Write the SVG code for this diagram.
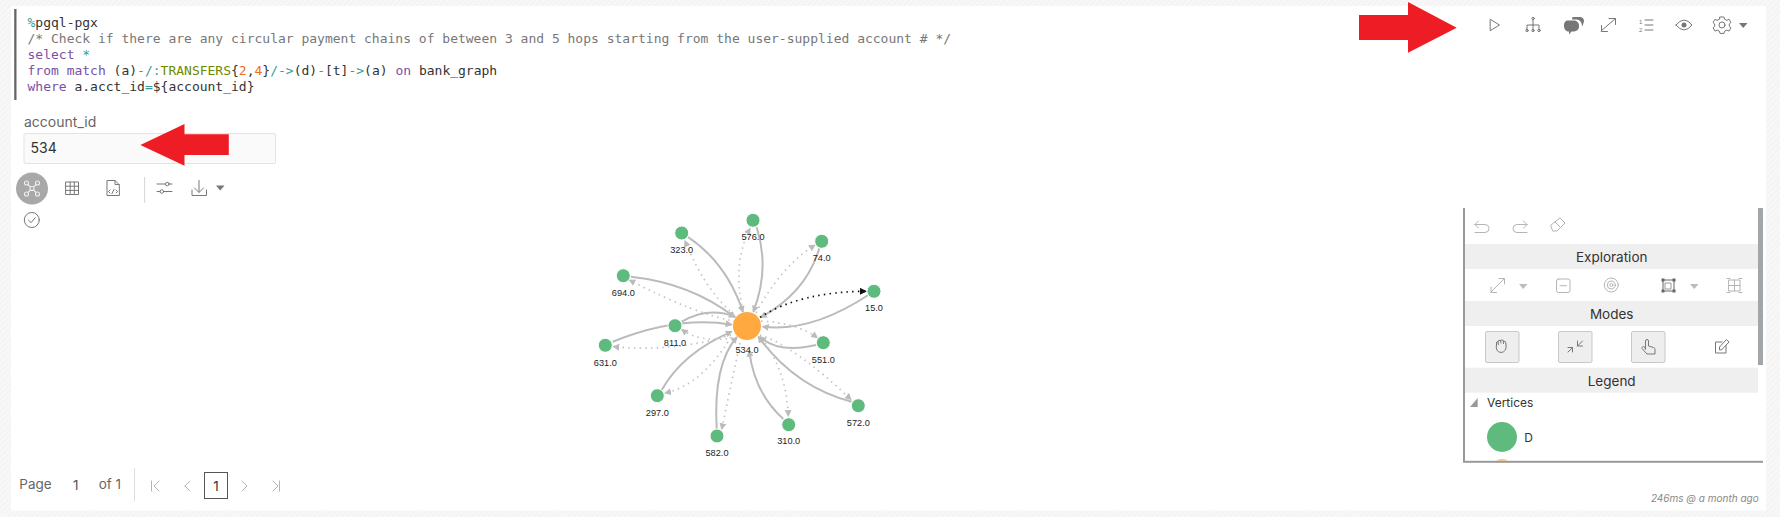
<svg xmlns="http://www.w3.org/2000/svg" width="1780" height="517" viewBox="0 0 1780 517">
<style>
.code{font-family:"DejaVu Sans Mono","Liberation Mono",monospace;font-size:13px;fill:#333}
.cm{fill:#777}.kw{fill:#7b4fa3}.op{fill:#3a9a9a}.ty{fill:#6c8a00}.nu{fill:#f26b1d}
.ui{font-family:Inter,"Liberation Sans",sans-serif;fill:#333}
.hd{font-size:13.500px;text-anchor:middle}
.lb{font-family:"Liberation Sans",Arial,sans-serif;font-size:9.200px;fill:#222;text-anchor:middle}
.ic{fill:none;stroke:#777;stroke-width:1;stroke-linecap:round;stroke-linejoin:round}
.lt{fill:none;stroke:#b5b5b5;stroke-width:1;stroke-linecap:round;stroke-linejoin:round}
.cr{fill:#777}.crl{fill:#bbb}
.red{fill:#ee1c25}
.s{fill:none;stroke:#bbb;stroke-width:2;marker-end:url(#ag)}
.d{fill:none;stroke:#c4c4c4;stroke-width:1.700;stroke-dasharray:1.500 4.200;marker-end:url(#ag)}
.db{fill:none;stroke:#111;stroke-width:1.700;stroke-dasharray:1.500 4.200;marker-end:url(#ak)}
.v{fill:#5fba7d;stroke:#fff;stroke-width:1}
.btn{fill:#eee;stroke:#c8c8c8;stroke-width:1}
.band{fill:#efefef}
</style>
<defs>
<pattern id="hatch" width="4" height="4" patternUnits="userSpaceOnUse" patternTransform="rotate(45)"><rect width="4" height="4" fill="#f4f4f4"/><rect width="2" height="4" fill="#f8f8f8"/></pattern>
<marker id="ag" markerUnits="userSpaceOnUse" markerWidth="8" markerHeight="8" refX="6" refY="3.500" orient="auto"><path d="M0 0L7 3.500L0 7z" fill="#bbb"/></marker>
<marker id="ak" markerUnits="userSpaceOnUse" markerWidth="8" markerHeight="8" refX="6" refY="3.500" orient="auto"><path d="M0 0L7 3.500L0 7z" fill="#111"/></marker>
</defs>
<rect width="1780" height="517" fill="url(#hatch)"/>
<rect x="11" y="6" width="1755" height="504.500" fill="#fff"/>
<rect x="14.200" y="9" width="2.300" height="91" fill="#666"/>
<g id="code">
<text class="code" x="27.500" y="27"><tspan class="op">%</tspan>pgql-pgx</text>
<text class="code cm" x="27.500" y="43">/* Check if there are any circular payment chains of between 3 and 5 hops starting from the user-supplied account # */</text>
<text class="code" x="27.500" y="59"><tspan class="kw">select</tspan> <tspan class="op">*</tspan></text>
<text class="code" x="27.500" y="75"><tspan class="kw">from match</tspan> (a)<tspan class="op">-/:</tspan><tspan class="ty">TRANSFERS</tspan>{<tspan class="nu">2</tspan>,<tspan class="nu">4</tspan>}<tspan class="op">/-&gt;</tspan>(d)<tspan class="op">-</tspan>[t]<tspan class="op">-&gt;</tspan>(a) <tspan class="kw">on</tspan> bank_graph</text>
<text class="code" x="27.500" y="91"><tspan class="kw">where</tspan> a.acct_id<tspan class="op">=</tspan>${account_id}</text>
</g>
<g id="toolbar-top">
<path class="ic" d="M1490.500 19.500L1499.500 25L1490.500 30.500z"/>
<path class="ic" d="M1533 19.500V25M1527 30V25H1539V30M1533 25V30"/><circle class="ic" cx="1533" cy="18.500" r="1.200"/><circle class="ic" cx="1527" cy="30.500" r="1.200"/><circle class="ic" cx="1533" cy="30.500" r="1.200"/><circle class="ic" cx="1539" cy="30.500" r="1.200"/>
<path d="M1573 17h7a4 4 0 0 1 3.500 6q-.500 2-1.500 3.500q0-6-5-7h-5q0-2.500 1-2.500z" fill="#777"/>
<path d="M1567 20.500h7a5 5 0 0 1 5 5v1a5 5 0 0 1-5 5h-2.500l-2.500 3v-3a5 5 0 0 1-2.500-.500a5 5 0 0 1-2.500-4.500v-1a5 5 0 0 1 3-5z" fill="#777"/>
<path class="ic" d="M1601 31L1615 19M1609 18.500H1615.500V24.500M1601.500 25.500V31.500H1607.500"/>
<path class="ic" d="M1645 20H1653M1645 25H1653M1645 30H1653"/>
<text x="1639" y="23.500" font-family="Liberation Sans,sans-serif" font-size="6" fill="#777">1</text><text x="1639" y="32" font-family="Liberation Sans,sans-serif" font-size="6" fill="#777">2</text>
<path class="ic" d="M1676 25Q1684 15 1692 25Q1684 35 1676 25z"/><circle cx="1684" cy="25" r="2.500" fill="#777"/>
<circle class="ic" cx="1722" cy="25" r="3"/><path class="ic" d="M1720 17h4l.700 2.300 2.200 1 2.100-1 2 3.200-1.700 1.500v2.400l1.700 1.500-2 3.200-2.100-1-2.200 1-.700 2.300h-4l-.700-2.300-2.200-1-2.100 1-2-3.200 1.700-1.500v-2.400l-1.700-1.500 2-3.200 2.100 1 2.200-1z"/>
<path class="cr" d="M1739 23h8.500l-4.250 5z"/>
</g>
<g id="arrow-run"><path class="red" d="M1359 15H1408V2L1456.700 27.700L1408 52.700V40H1359z"/></g>
<g id="input">
<text class="ui" x="24" y="127" font-size="14" style="fill:#666">account_id</text>
<rect x="24" y="133.500" width="251.500" height="30" rx="1.500" fill="#fafafa" stroke="#e3e3e3"/>
<text class="ui" x="30.600" y="153" font-size="14">534</text>
</g>
<g id="arrow-input"><path class="red" d="M140.400 145L184.500 124V134.300H228.800V155H184.500V165.700z"/></g>
<g id="toolbar-result">
<circle cx="32" cy="188.500" r="16" fill="#a8a8a8"/>
<g fill="none" stroke="#eee" stroke-width="1.100"><circle cx="26.500" cy="183" r="2"/><circle cx="37.500" cy="183" r="2"/><circle cx="26.500" cy="194" r="2"/><circle cx="37.500" cy="194" r="2"/><circle cx="32" cy="188.500" r="2"/><path d="M28 184.500L30.500 187M36 184.500L33.500 187M28 192.500L30.500 190M36 192.500L33.500 190"/></g>
<path class="ic" d="M66 182h12.500v12.500H66zM66 186.200h12.500M66 190.400h12.500M70.200 182v12.500M74.300 182v12.500"/>
<path class="ic" d="M119 195.500h-12v-15h8l4 4zM115 180.500v4h4"/><path class="ic" d="M110 190l-1.500 1.500 1.500 1.500M116 190l1.500 1.500-1.500 1.500M114 189.500l-2 4"/>
<path d="M144.600 177V203" stroke="#d5d5d5" fill="none"/>
<path class="ic" d="M157 184h8.500M169 184h3M157 191.500h3M163.500 191.500h8.500"/><circle class="ic" cx="167.300" cy="184" r="1.800"/><circle class="ic" cx="161.800" cy="191.500" r="1.800"/>
<path class="ic" d="M199 180.500V192M194.500 188L199 192.500L203.500 188M192 190V195.500H206.500V190"/>
<path class="cr" d="M216 185.500h8.500l-4.250 5z"/>
<circle class="ic" cx="31.800" cy="220" r="7.500"/><path class="ic" d="M28.500 220.200L31 222.700L35.200 217.700"/>
</g>
<g id="connectors">
<path class="s" d="M688 237Q726.700 263 743 312"/>
<path class="s" d="M756.700 227.300Q770 269 753.300 311.700"/>
<path class="s" d="M819.300 248.300Q806 293 760.700 317.300"/>
<path class="s" d="M868.300 295Q811.100 332.600 762.700 326.700"/>
<path class="s" d="M816 345Q778.600 353.800 760 336.700"/>
<path class="s" d="M851.700 401.700Q795 387 758.300 336.700"/>
<path class="s" d="M783.300 419Q753.700 391.800 749.300 350.700"/>
<path class="s" d="M716.700 429.300Q713 364 737 337"/>
<path class="s" d="M661.700 390Q683 352.600 731.700 331.700"/>
<path class="s" d="M612.700 341.700Q677.800 315.400 731.700 324.700"/>
<path class="s" d="M681.700 321.700Q708.300 306.200 735 316.700"/>
<path class="s" d="M630.700 276.700Q690.600 283 735 317.300"/>
<path class="d" d="M734 315Q704 288.700 685 240.700"/>
<path class="d" d="M743 311Q732 263.700 750 228.300"/>
<path class="d" d="M756 313Q780.500 267 815 245"/>
<path class="db" d="M760 317.300Q800.400 291.700 866 291.300"/>
<path class="d" d="M761 321Q797 323 817.300 337.700"/>
<path class="d" d="M760 335Q794.500 346 851 399.500"/>
<path class="d" d="M765 343Q786.700 374 788.300 416"/>
<path class="d" d="M740 343Q729 394 721.700 429.300"/>
<path class="d" d="M731 337Q702 385 665 393"/>
<path class="d" d="M731 335Q674.400 352.500 613.300 346.700"/>
<path class="d" d="M733 338Q699.300 343 681.700 329.300"/>
<path class="d" d="M735 321Q698 315.500 629.300 280"/>
</g>
<g id="n323"><circle class="v" cx="681.700" cy="233" r="7"/><text class="lb" x="681.700" y="253.300">323.0</text></g>
<g id="n576"><circle class="v" cx="753" cy="220.300" r="7"/><text class="lb" x="753" y="240.300">576.0</text></g>
<g id="n74"><circle class="v" cx="821.700" cy="241.300" r="7"/><text class="lb" x="821.700" y="261">74.0</text></g>
<g id="n15"><circle class="v" cx="874" cy="291.300" r="7"/><text class="lb" x="874" y="311">15.0</text></g>
<g id="n551"><circle class="v" cx="823.300" cy="342.700" r="7"/><text class="lb" x="823.300" y="363">551.0</text></g>
<g id="n572"><circle class="v" cx="858.300" cy="405.700" r="7"/><text class="lb" x="858.300" y="426">572.0</text></g>
<g id="n310"><circle class="v" cx="788.700" cy="424.700" r="7"/><text class="lb" x="788.700" y="444.300">310.0</text></g>
<g id="n582"><circle class="v" cx="717" cy="436" r="7"/><text class="lb" x="717" y="456.300">582.0</text></g>
<g id="n297"><circle class="v" cx="657.300" cy="395.700" r="7"/><text class="lb" x="657.300" y="416">297.0</text></g>
<g id="n631"><circle class="v" cx="605.300" cy="345.300" r="7"/><text class="lb" x="605.300" y="365.600">631.0</text></g>
<g id="n811"><circle class="v" cx="675" cy="325.700" r="7"/><text class="lb" x="675" y="346">811.0</text></g>
<g id="n694"><circle class="v" cx="623.300" cy="275.700" r="7"/><text class="lb" x="623.300" y="296">694.0</text></g>
<g id="n534"><circle cx="747" cy="326" r="14" fill="#ffa940"/><text class="lb" x="747" y="353.300">534.0</text></g>
<g id="pagination">
<text class="ui" x="19.300" y="489" font-size="13.500" style="fill:#666">Page</text>
<text class="ui" x="75.700" y="490" font-size="13.500" text-anchor="middle" style="fill:#555">1</text>
<text class="ui" x="98.700" y="489" font-size="13.500" style="fill:#666">of 1</text>
<path d="M134.500 468V501" stroke="#ddd" fill="none"/>
<path class="lt" d="M151.500 481V491M159 481L154 486L159 491M185 486l5-5M185 486l5 5M242 481l5 5l-5 5M273 481l5 5l-5 5M279.500 481V491"/>
<rect x="204.500" y="472.500" width="23" height="26" fill="#fff" stroke="#555"/>
<text class="ui" x="216" y="490.500" font-size="13.500" text-anchor="middle">1</text>
</g>
<g id="panel">
<rect x="1463" y="208" width="2" height="254" fill="#999"/>
<rect x="1463" y="460.800" width="300" height="2" fill="#999"/>
<rect x="1758" y="208" width="5" height="157" fill="#a3a6a8"/>
<rect class="band" x="1465" y="244" width="293" height="25"/>
<rect class="band" x="1465" y="301" width="293" height="25"/>
<rect class="band" x="1465" y="367.700" width="293" height="25"/>
<text class="ui hd" x="1611.700" y="261.500">Exploration</text>
<text class="ui hd" x="1611.700" y="318.800">Modes</text>
<text class="ui hd" x="1611.700" y="385.500">Legend</text>
<path class="lt" d="M1475 224.500H1485a4 4 0 0 1 0 8H1475M1475 224.500l3.500-3.500M1475 224.500l3.500 3.500"/>
<path class="lt" d="M1527 224.500H1517a4 4 0 0 0 0 8H1527M1527 224.500l-3.500-3.500M1527 224.500l-3.500 3.500"/>
<path class="lt" d="M1551 225L1560 218L1565 223L1557 231H1553zM1555 222L1561 228"/>
<path class="lt" d="M1491 292L1504 279M1499 278.500H1504.500V284M1491 287V292.500H1496.500"/>
<path class="crl" d="M1519 284h8.500l-4.250 5z"/>
<rect class="lt" x="1556.500" y="279" width="13.500" height="13.500" rx="2"/><path class="lt" d="M1560 285.700H1566.500"/>
<circle class="lt" cx="1611.300" cy="285" r="7"/><circle class="lt" cx="1611.300" cy="285" r="4"/><circle class="lt" cx="1611.300" cy="285" r="1.500"/>
<path d="M1663 280h11v11h-11z" fill="none" stroke="#666"/><path d="M1665 283h6v6h-6z" fill="none" stroke="#999"/><path d="M1661.500 278.500h3v3h-3zM1672.500 278.500h3v3h-3zM1661.500 289.500h3v3h-3zM1672.500 289.500h3v3h-3z" fill="#666"/>
<path class="crl" d="M1690 284h8.500l-4.250 5z"/>
<path class="lt" d="M1729 280h11v11h-11zM1734.500 280v11M1729 285.500h11M1727 278.500h3M1739 278.500h3M1727 292.500h3M1739 292.500h3"/>
<rect class="btn" x="1485.500" y="331.500" width="33.500" height="31" rx="1.500"/>
<rect class="btn" x="1558.500" y="331.500" width="33.500" height="31" rx="1.500"/>
<rect class="btn" x="1631.500" y="331.500" width="33.500" height="31" rx="1.500"/>
<path class="ic" d="M1496.500 344Q1496 341 1498 342Q1498 339.500 1500.500 340.500Q1502 339 1503.500 341Q1506 341 1506 344Q1507 352 1501 352.500Q1495 352 1496.500 344zM1498 342L1498.500 344.500M1500.500 340.500L1501 343M1503.500 341L1503.500 343.500"/>
<path class="ic" d="M1568 352L1572.500 347.800M1568 347.500H1572.500V352M1582.500 341L1577.500 346M1577.500 341V346H1582.500"/>
<path class="ic" d="M1645.500 349V341a1.500 1.500 0 0 1 3 0V346l5 1.500a2 2 0 0 1 1.500 2V354H1647L1642 348.500a1.500 1.500 0 0 1 2.500-1.500z"/>
<path class="ic" d="M1726 345.500V353H1715.500V342H1722M1719.500 349.500V347L1726.500 339.500L1729 342L1722 349.500z"/>
<path d="M1477.700 398V407H1470z" fill="#999"/>
<text class="ui" x="1487" y="407.300" font-size="12">Vertices</text>
<circle cx="1502" cy="437" r="15" fill="#5fba7d"/>
<text class="ui" x="1524.300" y="441.700" font-size="12">D</text>
<path d="M1496 460.500A15 15 0 0 1 1508 460.500z" fill="#ffa940"/>
</g>
<text class="ui" x="1758.700" y="501.500" font-size="10" font-style="italic" text-anchor="end" style="fill:#888">246ms @ a month ago</text>
</svg>
